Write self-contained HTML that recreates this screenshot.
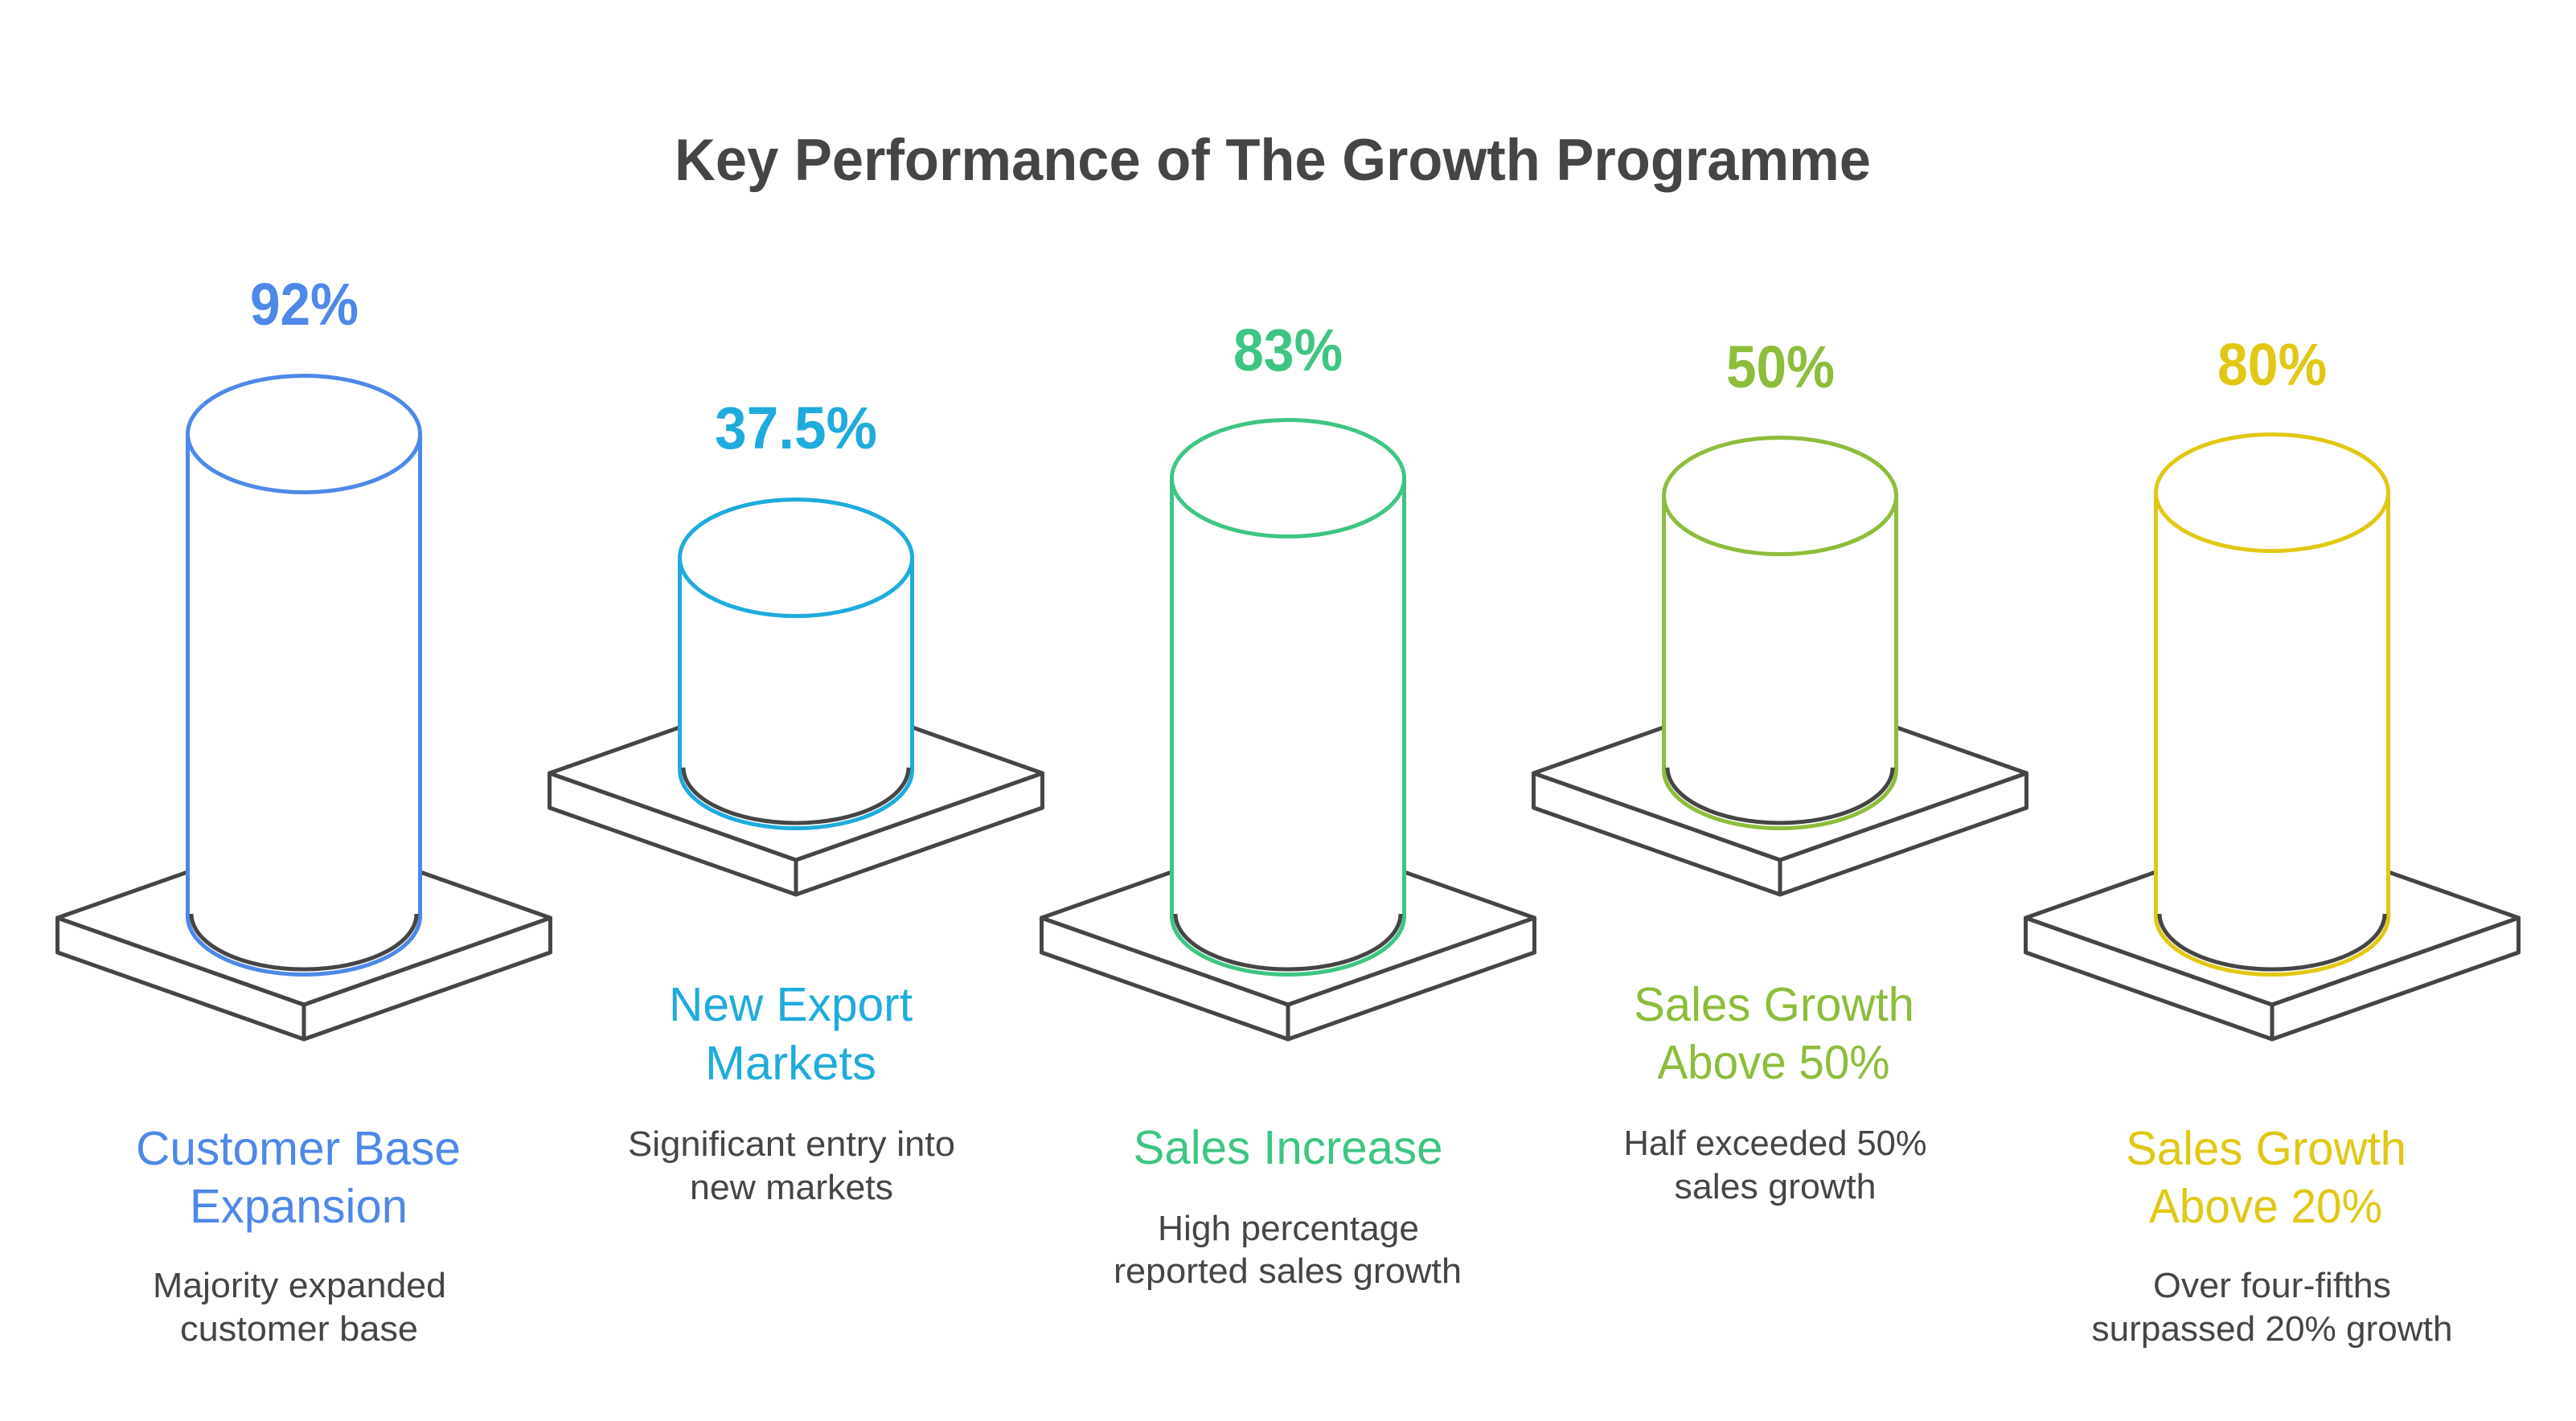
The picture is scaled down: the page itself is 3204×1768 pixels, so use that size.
<!DOCTYPE html>
<html>
<head>
<meta charset="utf-8">
<style>
  html, body { margin: 0; padding: 0; background: #ffffff; }
  svg { display: block; }
  text { font-family: "Liberation Sans", "DejaVu Sans", sans-serif; }
  .ttl { font-weight: bold; font-size: 73px; fill: #454545; }
  .pct { font-weight: bold; font-size: 74px; }
  .lab { font-size: 59px; }
  .desc { font-size: 44px; fill: #454545; }
  .base { fill: #ffffff; stroke: #454545; stroke-width: 5; stroke-linejoin: round; }
</style>
</head>
<body>
<svg width="3204" height="1768" viewBox="0 0 3204 1768" xmlns="http://www.w3.org/2000/svg">
  <rect width="3204" height="1768" fill="#ffffff"/>

  <!-- Title -->
  <text class="ttl" x="839" y="224" textLength="1488" lengthAdjust="spacingAndGlyphs">Key Performance of The Growth Programme</text>

  <!-- ============ Column 1 (blue) ============ -->
  <g>
    <polygon class="base" points="71.5,1142 378,1250 378,1293 71.5,1185"/>
    <polygon class="base" points="684.5,1142 378,1250 378,1293 684.5,1185"/>
    <polygon class="base" points="71.5,1142 378,1034 684.5,1142 378,1250"/>
    <path d="M233.5,540 L233.5,1140 A144.5,72.5 0 0 0 522.5,1140 L522.5,540 Z" fill="#ffffff" stroke="#4e88e8" stroke-width="5"/>
    <path d="M238,1137 A140,69 0 0 0 518,1137" fill="none" stroke="#454545" stroke-width="5"/>
    <ellipse cx="378" cy="540" rx="144.5" ry="72.5" fill="#ffffff" stroke="#4e88e8" stroke-width="5"/>
    <text class="pct" x="378.5" y="404" text-anchor="middle" fill="#4e88e8" textLength="135" lengthAdjust="spacingAndGlyphs">92%</text>
    <text class="lab" x="371" y="1449" text-anchor="middle" fill="#4e88e8" textLength="404" lengthAdjust="spacingAndGlyphs">Customer Base</text>
    <text class="lab" x="371.5" y="1521" text-anchor="middle" fill="#4e88e8" textLength="271" lengthAdjust="spacingAndGlyphs">Expansion</text>
    <text class="desc" x="372.5" y="1614" text-anchor="middle" textLength="365" lengthAdjust="spacingAndGlyphs">Majority expanded</text>
    <text class="desc" x="372" y="1668" text-anchor="middle" textLength="296" lengthAdjust="spacingAndGlyphs">customer base</text>
  </g>

  <!-- ============ Column 2 (cyan) ============ -->
  <g>
    <polygon class="base" points="683.5,962 990,1070 990,1113 683.5,1005"/>
    <polygon class="base" points="1296.5,962 990,1070 990,1113 1296.5,1005"/>
    <polygon class="base" points="683.5,962 990,854 1296.5,962 990,1070"/>
    <path d="M845.5,694 L845.5,958 A144.5,72.5 0 0 0 1134.5,958 L1134.5,694 Z" fill="#ffffff" stroke="#1fabdc" stroke-width="5"/>
    <path d="M850,955 A140,69 0 0 0 1130,955" fill="none" stroke="#454545" stroke-width="5"/>
    <ellipse cx="990" cy="694" rx="144.5" ry="72.5" fill="#ffffff" stroke="#1fabdc" stroke-width="5"/>
    <text class="pct" x="990" y="558" text-anchor="middle" fill="#1fabdc" textLength="202" lengthAdjust="spacingAndGlyphs">37.5%</text>
    <text class="lab" x="983.5" y="1270" text-anchor="middle" fill="#1fabdc" textLength="303" lengthAdjust="spacingAndGlyphs">New Export</text>
    <text class="lab" x="983.5" y="1343" text-anchor="middle" fill="#1fabdc" textLength="213" lengthAdjust="spacingAndGlyphs">Markets</text>
    <text class="desc" x="984.5" y="1438" text-anchor="middle" textLength="407" lengthAdjust="spacingAndGlyphs">Significant entry into</text>
    <text class="desc" x="984.5" y="1492" text-anchor="middle" textLength="253" lengthAdjust="spacingAndGlyphs">new markets</text>
  </g>

  <!-- ============ Column 3 (green) ============ -->
  <g>
    <polygon class="base" points="1295.5,1142 1602,1250 1602,1293 1295.5,1185"/>
    <polygon class="base" points="1908.5,1142 1602,1250 1602,1293 1908.5,1185"/>
    <polygon class="base" points="1295.5,1142 1602,1034 1908.5,1142 1602,1250"/>
    <path d="M1457.5,595 L1457.5,1140 A144.5,72.5 0 0 0 1746.5,1140 L1746.5,595 Z" fill="#ffffff" stroke="#3ec583" stroke-width="5"/>
    <path d="M1462,1137 A140,69 0 0 0 1742,1137" fill="none" stroke="#454545" stroke-width="5"/>
    <ellipse cx="1602" cy="595" rx="144.5" ry="72.5" fill="#ffffff" stroke="#3ec583" stroke-width="5"/>
    <text class="pct" x="1602" y="461" text-anchor="middle" fill="#3ec583" textLength="136" lengthAdjust="spacingAndGlyphs">83%</text>
    <text class="lab" x="1602" y="1448" text-anchor="middle" fill="#3ec583" textLength="385" lengthAdjust="spacingAndGlyphs">Sales Increase</text>
    <text class="desc" x="1602.5" y="1543" text-anchor="middle" textLength="325" lengthAdjust="spacingAndGlyphs">High percentage</text>
    <text class="desc" x="1601.5" y="1596" text-anchor="middle" textLength="433" lengthAdjust="spacingAndGlyphs">reported sales growth</text>
  </g>

  <!-- ============ Column 4 (olive green) ============ -->
  <g>
    <polygon class="base" points="1907.5,962 2214,1070 2214,1113 1907.5,1005"/>
    <polygon class="base" points="2520.5,962 2214,1070 2214,1113 2520.5,1005"/>
    <polygon class="base" points="1907.5,962 2214,854 2520.5,962 2214,1070"/>
    <path d="M2069.5,617 L2069.5,958 A144.5,72.5 0 0 0 2358.5,958 L2358.5,617 Z" fill="#ffffff" stroke="#8dbd3b" stroke-width="5"/>
    <path d="M2074,955 A140,69 0 0 0 2354,955" fill="none" stroke="#454545" stroke-width="5"/>
    <ellipse cx="2214" cy="617" rx="144.5" ry="72.5" fill="#ffffff" stroke="#8dbd3b" stroke-width="5"/>
    <text class="pct" x="2214.5" y="482" text-anchor="middle" fill="#8dbd3b" textLength="135" lengthAdjust="spacingAndGlyphs">50%</text>
    <text class="lab" x="2206.5" y="1270" text-anchor="middle" fill="#8dbd3b" textLength="349" lengthAdjust="spacingAndGlyphs">Sales Growth</text>
    <text class="lab" x="2206" y="1342" text-anchor="middle" fill="#8dbd3b" textLength="289" lengthAdjust="spacingAndGlyphs">Above 50%</text>
    <text class="desc" x="2208" y="1437" text-anchor="middle" textLength="377" lengthAdjust="spacingAndGlyphs">Half exceeded 50%</text>
    <text class="desc" x="2208" y="1491" text-anchor="middle" textLength="251" lengthAdjust="spacingAndGlyphs">sales growth</text>
  </g>

  <!-- ============ Column 5 (yellow) ============ -->
  <g>
    <polygon class="base" points="2519.5,1142 2826,1250 2826,1293 2519.5,1185"/>
    <polygon class="base" points="3132.5,1142 2826,1250 2826,1293 3132.5,1185"/>
    <polygon class="base" points="2519.5,1142 2826,1034 3132.5,1142 2826,1250"/>
    <path d="M2681.5,613 L2681.5,1140 A144.5,72.5 0 0 0 2970.5,1140 L2970.5,613 Z" fill="#ffffff" stroke="#e0c814" stroke-width="5"/>
    <path d="M2686,1137 A140,69 0 0 0 2966,1137" fill="none" stroke="#454545" stroke-width="5"/>
    <ellipse cx="2826" cy="613" rx="144.5" ry="72.5" fill="#ffffff" stroke="#e0c814" stroke-width="5"/>
    <text class="pct" x="2826" y="479" text-anchor="middle" fill="#e0c814" textLength="136" lengthAdjust="spacingAndGlyphs">80%</text>
    <text class="lab" x="2818.5" y="1449" text-anchor="middle" fill="#e0c814" textLength="349" lengthAdjust="spacingAndGlyphs">Sales Growth</text>
    <text class="lab" x="2818" y="1521" text-anchor="middle" fill="#e0c814" textLength="290" lengthAdjust="spacingAndGlyphs">Above 20%</text>
    <text class="desc" x="2826" y="1614" text-anchor="middle" textLength="296" lengthAdjust="spacingAndGlyphs">Over four-fifths</text>
    <text class="desc" x="2826" y="1668" text-anchor="middle" textLength="449" lengthAdjust="spacingAndGlyphs">surpassed 20% growth</text>
  </g>
</svg>
</body>
</html>
